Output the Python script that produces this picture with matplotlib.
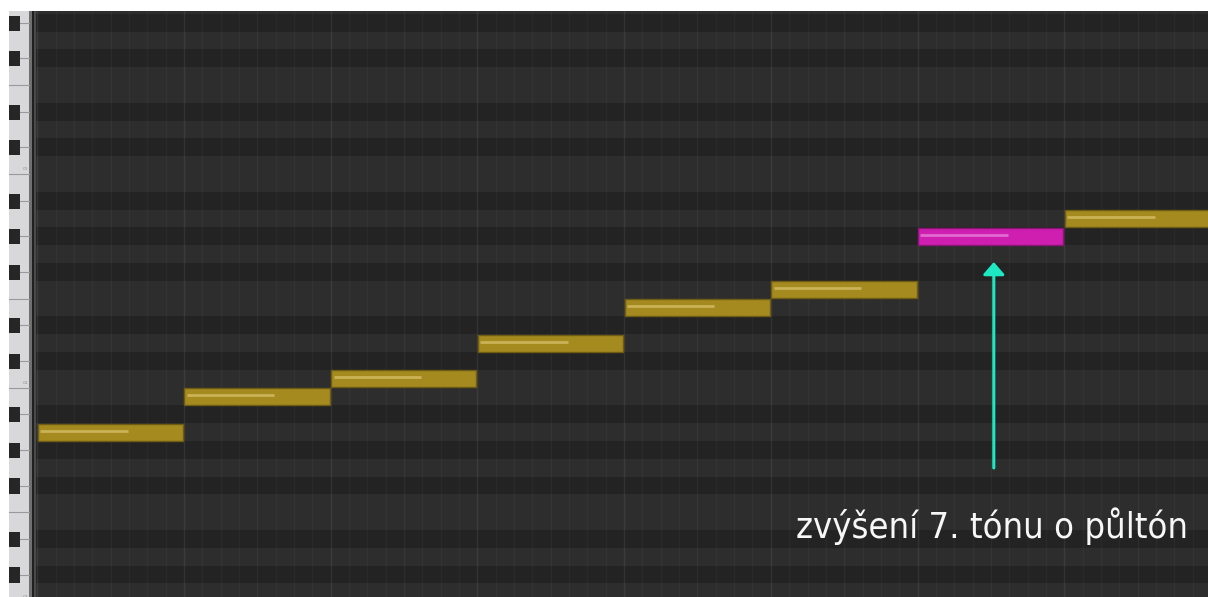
import matplotlib
matplotlib.use("Agg")
import matplotlib.pyplot as plt
from matplotlib.patches import Rectangle

# Notes of A harmonic minor (MIDI pitch), one bar each
pitches = [57, 59, 60, 62, 64, 65, 68, 69]
starts = [0, 1, 2, 3, 4, 5, 6, 7]
lengths = [1, 1, 1, 1, 1, 1, 1, 1]
velocities = [79, 79, 79, 79, 79, 79, 79, 79]
raised_note = 6
label = 'zvýšení 7. tónu o půltón'
octave_labels = {48: 'C3', 60: 'C4', 72: 'C5'}

# visible range of the piano roll
y_lo, y_hi = 48.24, 81.16
x_lo, x_hi = -0.009, 7.98
black = {1, 3, 6, 8, 10}

W, H = 1208, 597
fig = plt.figure(figsize=(W / 100, H / 100), dpi=100, facecolor='white')
ax = fig.add_axes([36 / W, 0, (W - 36) / W, (H - 11) / H])
kb = fig.add_axes([9 / W, 0, 27 / W, (H - 11) / H])

# Rows
for p in range(48, 82):
    c = '#232323' if p % 12 in black else '#2d2d2d'
    ax.axhspan(p, p + 1, color=c, lw=0, zorder=0)

# Grid lines (eighths, half bars, bars)
for i in range(0, 8 * 8 + 1):
    x = i / 8
    if i % 8 == 0:
        a = 0.07
    elif i % 4 == 0:
        a = 0.045
    else:
        a = 0.03
    ax.axvline(x, color='white', lw=1, alpha=a, zorder=1)

# Notes
for i, (p, s, l, v) in enumerate(zip(pitches, starts, lengths, velocities)):
    if i == raised_note:
        fc, ec, hl = '#cf1fb0', '#8a1577', '#e06ad0'
    else:
        fc, ec, hl = '#a58b1f', '#6e5c14', '#c9b257'
    ax.add_patch(Rectangle((s + 0.003, p + 0.03), l * 0.99, 0.94,
                           facecolor=fc, edgecolor=ec, lw=1, zorder=3))
    ax.plot([s + 0.02, s + l * 0.99 * v / 127], [p + 0.58, p + 0.58],
            color=hl, lw=2, solid_capstyle='butt', zorder=4)

# Arrow pointing at the raised note
ax.annotate('', xy=(starts[raised_note] + 0.52, pitches[raised_note] - 0.94),
            xytext=(starts[raised_note] + 0.52, 55.49),
            arrowprops=dict(arrowstyle='-|>,head_length=0.75,head_width=0.65',
                            color='#1de8c3', lw=2.2, shrinkA=0, shrinkB=0,
                            mutation_scale=10),
            zorder=5)

ax.text(7.844, 51.56, label, ha='right', va='baseline', color='#f7f7f7',
        fontsize=26, family='DejaVu Sans', fontstretch='condensed',
        zorder=6)

ax.set_xlim(x_lo, x_hi)
ax.set_ylim(y_lo, y_hi)
ax.axis('off')

# Keyboard
kb.set_xlim(0, 27)
kb.set_ylim(y_lo, y_hi)
kb.axis('off')
kb.add_patch(Rectangle((0, y_lo), 21, y_hi - y_lo, facecolor='#d8d8db',
                       lw=0, zorder=0))
kb.add_patch(Rectangle((20.3, y_lo), 2.7, y_hi - y_lo, facecolor='#707070',
                       lw=0, zorder=1))
kb.add_patch(Rectangle((23, y_lo), 2.3, y_hi - y_lo, facecolor='#202020',
                       lw=0, zorder=1))
kb.add_patch(Rectangle((25.3, y_lo), 1.7, y_hi - y_lo, facecolor='#4a4a4a',
                       lw=0, zorder=1))
for p in range(48, 82):
    if p % 12 in black:
        kb.add_patch(Rectangle((0, p + 0.05), 11, 0.85, facecolor='#262626',
                               lw=0, zorder=2))
        kb.plot([11, 20.3], [p + 0.5, p + 0.5], color='#9a9a9e', lw=0.8,
                zorder=2)
    elif p % 12 in (0, 5):
        kb.plot([0, 20.3], [p, p], color='#9a9a9e', lw=0.8, zorder=2)
for p, t in octave_labels.items():
    kb.text(19.5, p + 0.15, t, ha='right', va='bottom', fontsize=3,
            color='#8a8a8a', zorder=3)

fig.savefig('out.png', dpi=100, facecolor='white')
